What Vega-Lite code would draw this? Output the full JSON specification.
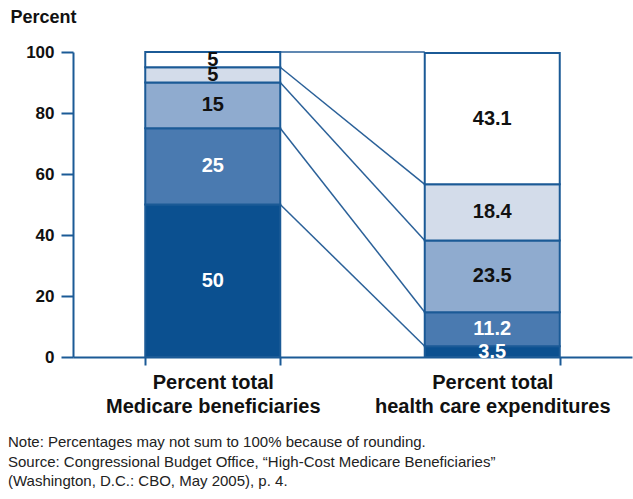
{
  "$schema": "https://vega.github.io/schema/vega-lite/v6.json",
  "width": 559,
  "height": 305,
  "autosize": "none",
  "padding": {"left": 73, "top": 52, "right": 1, "bottom": 142},
  "background": "white",
  "config": {
    "font": "Liberation Sans",
    "view": {"stroke": null}
  },
  "title": {
    "text": "Note: Percentages may not sum to 100% because of rounding.",
    "subtitle": [
      "Source: Congressional Budget Office, “High-Cost Medicare Beneficiaries”",
      "(Washington, D.C.: CBO, May 2005), p. 4."
    ],
    "orient": "bottom",
    "anchor": "start",
    "frame": "group",
    "dx": -65,
    "offset": 19,
    "font": "Liberation Sans",
    "fontSize": 15,
    "fontWeight": "normal",
    "color": "#222222",
    "subtitleFont": "Liberation Sans",
    "subtitleFontSize": 15,
    "subtitleColor": "#222222",
    "subtitleLineHeight": 19,
    "subtitlePadding": 5
  },
  "datasets": {
    "shares": [
      {"group": "Percent total|Medicare beneficiaries", "tier": 1, "value": 50},
      {"group": "Percent total|Medicare beneficiaries", "tier": 2, "value": 25},
      {"group": "Percent total|Medicare beneficiaries", "tier": 3, "value": 15},
      {"group": "Percent total|Medicare beneficiaries", "tier": 4, "value": 5},
      {"group": "Percent total|Medicare beneficiaries", "tier": 5, "value": 5},
      {"group": "Percent total|health care expenditures", "tier": 1, "value": 3.5},
      {"group": "Percent total|health care expenditures", "tier": 2, "value": 11.2},
      {"group": "Percent total|health care expenditures", "tier": 3, "value": 23.5},
      {"group": "Percent total|health care expenditures", "tier": 4, "value": 18.4},
      {"group": "Percent total|health care expenditures", "tier": 5, "value": 43.1}
    ],
    "links": [
      {"from": 100, "to": 100},
      {"from": 95, "to": 56.6},
      {"from": 90, "to": 38.2},
      {"from": 75, "to": 14.7},
      {"from": 50, "to": 3.5}
    ]
  },
  "layer": [
    {
      "data": {"name": "links"},
      "mark": {"type": "rule", "color": "#2b6199", "strokeWidth": 1.5},
      "encoding": {
        "x": {"datum": "Percent total|Medicare beneficiaries", "bandPosition": 1, "type": "nominal"},
        "x2": {"datum": "Percent total|health care expenditures", "bandPosition": 0},
        "y": {"field": "from", "type": "quantitative"},
        "y2": {"field": "to"}
      }
    },
    {
      "data": {"name": "shares"},
      "mark": {"type": "bar", "stroke": "#1b5a96", "strokeWidth": 2},
      "encoding": {
        "x": {
          "field": "group",
          "type": "nominal",
          "sort": null,
          "scale": {
            "domain": ["Percent total|Medicare beneficiaries", "Percent total|health care expenditures"],
            "paddingInner": 0.517,
            "paddingOuter": 0.2585
          },
          "axis": {
            "title": null,
            "labelAngle": 0,
            "labelAlign": "center",
            "labelFlush": false,
            "labelExpr": "datum.value ? split(datum.value, '|') : ''",
            "labelFontSize": 20,
            "labelFontWeight": "bold",
            "labelColor": "#111111",
            "labelLineHeight": 24,
            "labelBaseline": "top",
            "labelPadding": 7,
            "labelLimit": 320,
            "tickBand": "extent",
            "tickSize": 8,
            "tickWidth": 2,
            "tickColor": "#1b5a96",
            "domainColor": "#1b5a96",
            "domainWidth": 2
          }
        },
        "y": {
          "field": "value",
          "type": "quantitative",
          "stack": "zero",
          "scale": {"domain": [0, 100], "nice": false},
          "axis": {
            "title": "Percent",
            "titleAngle": 0,
            "titleAlign": "left",
            "titleBaseline": "middle",
            "titleX": -63,
            "titleY": -35,
            "titleFontSize": 18,
            "titleFontWeight": "bold",
            "titleColor": "#111111",
            "values": [0, 20, 40, 60, 80, 100],
            "grid": false,
            "labelFontSize": 17,
            "labelFontWeight": "bold",
            "labelColor": "#111111",
            "labelPadding": 7,
            "tickSize": 12,
            "tickWidth": 2,
            "tickColor": "#1b5a96",
            "domainColor": "#1b5a96",
            "domainWidth": 2
          }
        },
        "order": {"field": "tier", "type": "quantitative", "sort": "ascending"},
        "color": {
          "field": "tier",
          "type": "ordinal",
          "legend": null,
          "scale": {
            "domain": [1, 2, 3, 4, 5],
            "range": ["#0b5090", "#4a7ab0", "#8fabcf", "#d3dcea", "#ffffff"]
          }
        }
      }
    },
    {
      "data": {"name": "shares"},
      "transform": [
        {
          "stack": "value",
          "groupby": ["group"],
          "sort": [{"field": "tier", "order": "ascending"}],
          "as": ["lo", "hi"]
        },
        {"calculate": "(datum.lo + datum.hi) / 2", "as": "mid"}
      ],
      "mark": {"type": "text", "fontSize": 20, "fontWeight": "bold", "baseline": "middle"},
      "encoding": {
        "x": {"field": "group", "type": "nominal", "sort": null},
        "y": {"field": "mid", "type": "quantitative"},
        "text": {"field": "value", "type": "quantitative", "format": ".4~"},
        "color": {
          "condition": {"test": "datum.tier <= 2", "value": "#ffffff"},
          "value": "#111111"
        }
      }
    }
  ]
}
